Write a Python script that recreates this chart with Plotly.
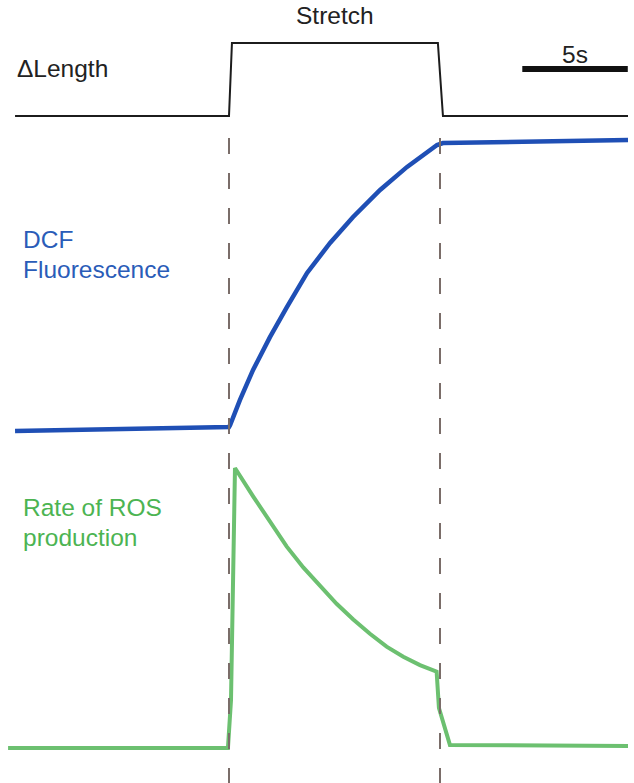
import plotly.graph_objects as go

# ---- data (time in seconds, stretch from 0 s to 10 s) ----
len_t = [-10.14, 0.0, 0.14, 9.9, 10.14, 18.91]
len_v = [0.0, 0.0, 1.0, 1.0, 0.0, 0.0]

dcf_t = [-10.14, 0.0, 0.05, 0.52, 1.14, 1.94, 2.75, 3.70, 4.79, 5.88, 7.16, 8.44, 9.86, 10.14, 18.91]
dcf_v = [0.0, 0.014, 0.02, 0.108, 0.212, 0.326, 0.431, 0.549, 0.653, 0.743, 0.837, 0.917, 0.993, 1.0, 1.01]

ros_t = [-10.47, -0.05, 0.095, 0.284, 1.15, 1.94, 2.73, 3.52, 4.31, 5.10, 5.89, 6.68, 7.47,
         8.26, 9.05, 9.84, 9.95, 10.47, 18.91]
ros_v = [0.0, 0.0, 0.171, 1.0, 0.898, 0.808, 0.720, 0.645, 0.580, 0.515, 0.459, 0.408, 0.362,
         0.326, 0.296, 0.273, 0.143, 0.011, 0.007]

stretch_marks = [0.0, 10.0]
scalebar_t = [13.9, 18.9]

W, H = 634, 783
PX_PER_S = 21.1
T0_PX = 229


def yrange(base_px, unit_px):
    # value = (base_px - py)/unit_px ; bottom of figure py=H, top py=0
    return [(base_px - H) / unit_px, base_px / unit_px]


fig = go.Figure()
fig.add_trace(go.Scatter(x=len_t, y=len_v, mode="lines", yaxis="y",
                         line=dict(color="#1c1c1c", width=2), hoverinfo="skip"))
fig.add_trace(go.Scatter(x=dcf_t, y=dcf_v, mode="lines", yaxis="y2",
                         line=dict(color="#1f4fb5", width=4.5), hoverinfo="skip"))
fig.add_trace(go.Scatter(x=ros_t, y=ros_v, mode="lines", yaxis="y3",
                         line=dict(color="#6cc070", width=4), hoverinfo="skip"))

for t in stretch_marks:
    fig.add_shape(type="line", xref="x", yref="paper", x0=t, x1=t,
                  y0=(H - 138) / H, y1=0,
                  line=dict(color="#7a6d69", width=2, dash="16px,19px"))

fig.add_shape(type="line", xref="x", yref="paper", x0=scalebar_t[0], x1=scalebar_t[1],
              y0=(H - 69) / H, y1=(H - 69) / H, line=dict(color="#111111", width=6))

font = "Liberation Sans, Arial, sans-serif"


def label(text, px, py, color, anchor="left"):
    fig.add_annotation(text=text, x=px / W, y=(H - py) / H, xref="paper", yref="paper",
                       xanchor=anchor, yanchor="middle", showarrow=False,
                       font=dict(family=font, size=24.5, color=color))


label("ΔLength", 15, 69, "#222222")
label("Stretch", 335, 16, "#222222", "center")
label("5s", 575, 54, "#222222", "center")
label("DCF", 21, 239, "#2a5cb8")
label("Fluorescence", 21, 269, "#2a5cb8")
label("Rate of ROS", 21, 507, "#4cb452")
label("production", 21, 537, "#4cb452")

fig.update_layout(
    width=W, height=H,
    margin=dict(l=0, r=0, t=0, b=0),
    paper_bgcolor="white", plot_bgcolor="white",
    showlegend=False,
    xaxis=dict(range=[-T0_PX / PX_PER_S, (W - T0_PX) / PX_PER_S], visible=False, fixedrange=True),
    yaxis=dict(range=yrange(116, 73), visible=False, domain=[0, 1]),
    yaxis2=dict(range=yrange(431, 288), visible=False, overlaying="y"),
    yaxis3=dict(range=yrange(748, 280), visible=False, overlaying="y"),
)

fig.write_html("out.html", config={"displayModeBar": False},
               post_script="document.body.style.margin='0';")
